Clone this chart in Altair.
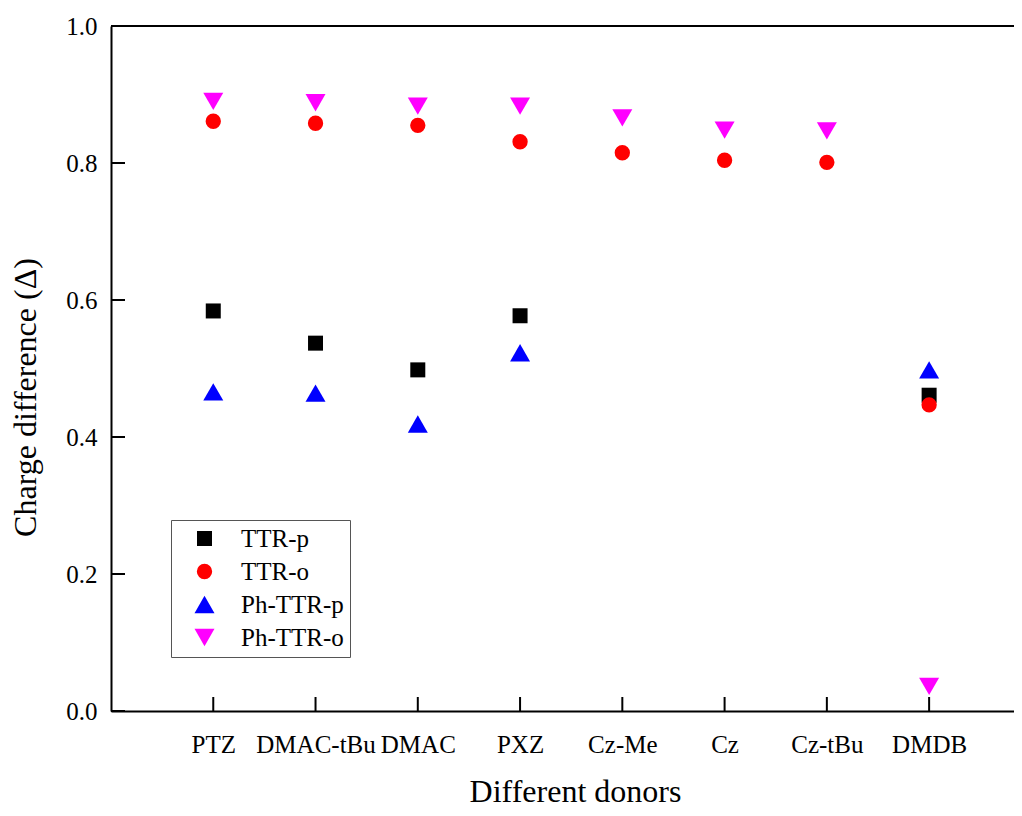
import json
import altair as alt
import pandas as pd

donors = ["PTZ", "DMAC-tBu", "DMAC", "PXZ", "Cz-Me", "Cz", "Cz-tBu", "DMDB"]
series = ["TTR-p", "TTR-o", "Ph-TTR-p", "Ph-TTR-o"]
ttr_p = [0.584, 0.537, 0.498, 0.577, None, None, None, 0.461]
ttr_o = [0.861, 0.858, 0.855, 0.831, 0.815, 0.804, 0.801, 0.447]
ph_ttr_p = [0.466, 0.464, 0.419, 0.523, None, None, None, 0.498]
ph_ttr_o = [0.890, 0.888, 0.883, 0.883, 0.866, 0.848, 0.847, 0.036]
y_ticks = [0.0, 0.2, 0.4, 0.6, 0.8, 1.0]
x_ticks = list(range(1, len(donors) + 1))

colors = ["#000000", "#ff0000", "#0000ff", "#ff00ff"]
shapes = ["square", "circle", "triangle-up", "triangle-down"]
sizes = [225, 235, 400, 400]

rows = []
for s, vals in zip(series, [ttr_p, ttr_o, ph_ttr_p, ph_ttr_o]):
    for i, (d, v) in enumerate(zip(donors, vals)):
        if v is not None:
            rows.append({"idx": i + 1, "donor": d, "series": s, "value": v})
df = pd.DataFrame(rows)

W, H = 903, 685
FONT = "Liberation Serif"
X_MAX = 8.83
x_scale = alt.Scale(domain=[0, X_MAX], nice=False, zero=False)
y_scale = alt.Scale(domain=[0, 1], nice=False)
label_expr = json.dumps(donors) + "[datum.value - 1]"

x_axis = alt.Axis(values=x_ticks, labelExpr=label_expr, ticks=False, grid=False,
                  labelPadding=21, labelFlush=False, labelOverlap=False,
                  title="Different donors", titleY=90, titleX=464,
                  titleBaseline="alphabetic")
y_axis = alt.Axis(values=y_ticks, format=".1f", ticks=False, grid=False,
                  labelPadding=14, title="Charge difference (Δ)",
                  titleX=-76, titleY=371, titleBaseline="alphabetic")

points = alt.Chart(df).mark_point(filled=True, opacity=1, strokeWidth=0).encode(
    x=alt.X("idx:Q", scale=x_scale, axis=x_axis, title="Different donors"),
    y=alt.Y("value:Q", scale=y_scale, axis=y_axis, title="Charge difference (Δ)"),
    color=alt.Color("series:N", scale=alt.Scale(domain=series, range=colors),
                    legend=alt.Legend(title=None, orient="none", legendX=60, legendY=494,
                                      padding=6, symbolOffset=15, labelOffset=24,
                                      rowPadding=7, labelFontSize=25, labelFont=FONT,
                                      labelColor="black", strokeColor="#555555",
                                      fillColor="white", symbolStrokeWidth=0)),
    shape=alt.Shape("series:N", scale=alt.Scale(domain=series, range=shapes)),
    size=alt.Size("series:N", scale=alt.Scale(type="ordinal", domain=series, range=sizes)),
)

ytick_layer = alt.Chart(pd.DataFrame({"value": y_ticks})).mark_rule(color="black", strokeWidth=2).encode(
    y=alt.Y("value:Q", scale=y_scale, axis=y_axis, title="Charge difference (Δ)"),
    x=alt.value(0), x2=alt.value(14),
)
xtick_layer = alt.Chart(pd.DataFrame({"idx": x_ticks})).mark_rule(color="black", strokeWidth=2).encode(
    x=alt.X("idx:Q", scale=x_scale, axis=x_axis, title="Different donors"),
    y=alt.value(H), y2=alt.value(H - 14),
)
top_border = alt.Chart(pd.DataFrame({"idx": [0.0], "idx2": [X_MAX], "value": [1.0]})).mark_rule(
    color="black", strokeWidth=2).encode(
    x=alt.X("idx:Q", scale=x_scale, axis=x_axis, title="Different donors"),
    x2="idx2:Q",
    y=alt.Y("value:Q", scale=y_scale, axis=y_axis, title="Charge difference (Δ)"),
)

chart = alt.layer(ytick_layer, xtick_layer, top_border, points).properties(
    width=W, height=H,
    padding={"left": 103, "top": 18, "right": 0, "bottom": 97},
    autosize=alt.AutoSizeParams(type="none"),
    background="white",
).configure_view(stroke=None).configure_axis(
    domainColor="black", domainWidth=2,
    labelFont=FONT, titleFont=FONT, labelFontSize=25, titleFontSize=32,
    labelColor="black", titleColor="black", titleFontWeight="normal",
)

chart.save("out.html", embed_options={"renderer": "svg", "actions": False})
